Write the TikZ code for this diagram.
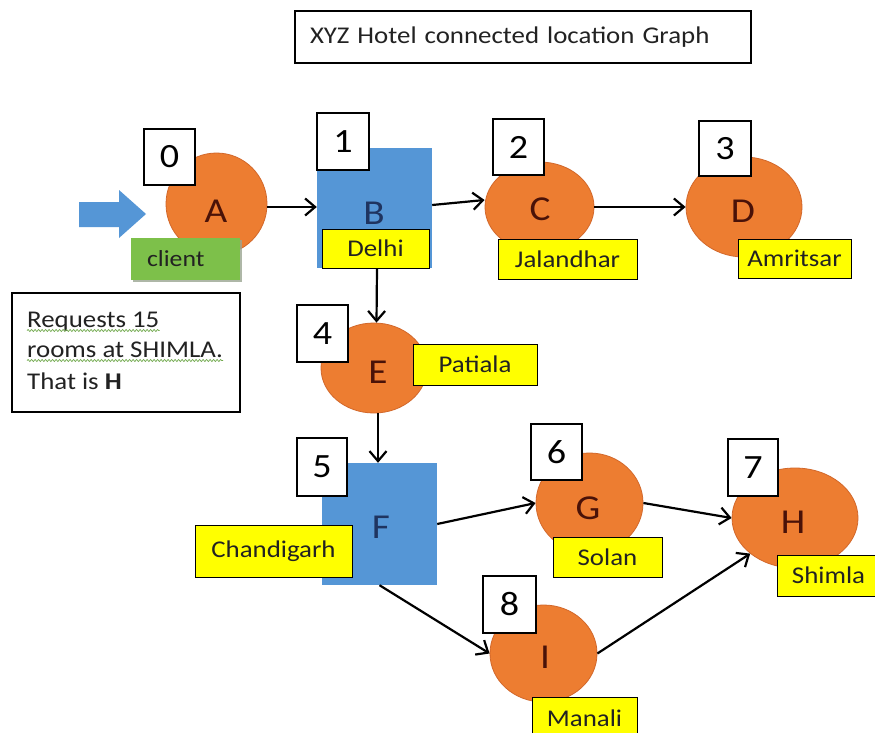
\documentclass[tikz,border=0pt]{standalone}
\usepackage{fontspec}
\setmainfont{Carlito}[FakeStretch=1.12]
\usetikzlibrary{shapes.geometric,arrows.meta,decorations.pathmorphing,shadows}
\definecolor{orng}{HTML}{ED7D31}
\definecolor{orngedge}{HTML}{D2672A}
\definecolor{bluebox}{HTML}{5596D6}
\definecolor{ylw}{HTML}{FFFF00}
\definecolor{grn}{HTML}{7DC04A}
\definecolor{grnshadow}{HTML}{9AA592}
\definecolor{wavyc}{HTML}{6FA84A}
\definecolor{ltr}{HTML}{4A1208}
\definecolor{navy}{HTML}{1F3460}
\definecolor{ink}{HTML}{222222}
\tikzset{
  city/.style={ellipse, fill=orng, draw=orngedge, line width=0.8pt, inner sep=0pt},
  hub/.style={rectangle, fill=bluebox, inner sep=0pt},
  letter/.style={inner sep=0pt, font=\fontsize{35}{35}\selectfont, text=ltr},
  hubletter/.style={letter, text=navy},
  numbox/.style={rectangle, draw=black, line width=1.2pt, fill=white, minimum width=51pt, minimum height=56pt, inner sep=0pt, font=\fontsize{34}{34}\selectfont},
  cityname/.style={rectangle, draw=black, line width=1pt, fill=ylw, inner sep=0pt, font=\fontsize{24}{24}\selectfont, text=ink},
  link/.style={draw=black, line width=2.2pt, -{Straight Barb[length=10pt,width=17pt]}},
  plain/.style={inner sep=0pt, font=\fontsize{24}{24}\selectfont, text=ink},
}
\begin{document}
\begin{tikzpicture}[x=1pt,y=-1pt]
\useasboundingbox (0,0) rectangle (875,733);
\clip (0,0) rectangle (875,733);
\fill[white] (0,0) rectangle (875,733);

% title
\node[draw=black, line width=1.2pt, minimum width=456pt, minimum height=52pt, text width=426pt, align=left, inner sep=0pt, font=\fontsize{24}{24}\selectfont, text=ink] (title) at (523,37) {XYZ Hotel connected location Graph};

% input arrow
\fill[bluebox] (79,202) -- (119,202) -- (119,190) -- (146,214) -- (119,238) -- (119,227) -- (79,227) -- cycle;

% main shapes
\node[city, minimum width=101pt, minimum height=102pt] (A) at (216.5,204) {};
\node[hub, minimum width=115pt, minimum height=120pt] (B) at (374.5,208) {};
\node[city, minimum width=109pt, minimum height=90pt] (C) at (539.5,207) {};
\node[city, minimum width=116pt, minimum height=100pt] (D) at (744,207) {};
\node[city, minimum width=106pt, minimum height=90pt] (E) at (374,368) {};
\node[hub, minimum width=115pt, minimum height=122pt] (F) at (379.5,524) {};
\node[city, minimum width=107pt, minimum height=100pt] (G) at (589.5,503) {};
\node[city, minimum width=126pt, minimum height=100pt] (H) at (795,518) {};
\node[city, minimum width=107pt, minimum height=97pt] (I) at (543.5,653.5) {};

% letters
\node[letter] (lA) at (216,211) {A};
\node[hubletter] (lB) at (374,213) {B};
\node[letter] (lC) at (540,209) {C};
\node[letter] (lD) at (743,211) {D};
\node[letter] (lE) at (378,372) {E};
\node[hubletter] (lF) at (381,527) {F};
\node[letter] (lG) at (588,508) {G};
\node[letter] (lH) at (793,522) {H};
\node[letter] (lI) at (545,657) {I};

% connectors
\draw[link] ([yshift=-3pt]A.east) -- ([yshift=-3pt]A.east -| B.west);
\draw[link] ([yshift=3pt]B.east) -- ([yshift=7pt]C.west);
\draw[link] (C.east) -- (D.west);
\draw[link] ([xshift=2.5pt]B.south) -- ([xshift=2.5pt]E.north);
\draw[link] ([xshift=4pt]E.south) -- ([xshift=4pt]E.south |- F.north);
\draw[link] (F.east) -- (G.west);
\draw[link] (G.east) -- (H.west);
\draw[link] (F.south) -- (I.west);
\draw[link] (I.east) -- (H.south west);

% number boxes
\node[numbox] (n0) at (169.5,157) {0};
\node[numbox, minimum width=52pt, minimum height=57pt] (n1) at (343,141.5) {1};
\node[numbox] (n2) at (518.5,147) {2};
\node[numbox, minimum width=52pt, minimum height=55pt] (n3) at (725,148.5) {3};
\node[numbox, minimum height=57pt] (n4) at (322.5,333.5) {4};
\node[numbox, minimum width=50pt, minimum height=58pt] (n5) at (322,467) {5};
\node[numbox] (n6) at (556.5,452) {6};
\node[numbox, minimum width=50pt, minimum height=57pt] (n7) at (753,467.5) {7};
\node[numbox, minimum width=53pt, minimum height=57pt] (n8) at (509.5,604.5) {8};

% place names
\node[rectangle, fill=grn, minimum width=109pt, minimum height=42pt, inner sep=0pt, text width=77pt, align=left,
      font=\fontsize{23}{23}\selectfont, text=ink,
      drop shadow={shadow xshift=2pt, shadow yshift=-2pt, fill=grnshadow, opacity=0.8}] (client) at (185.5,259) {client};
\node[cityname, minimum width=107pt, minimum height=39pt] (delhi) at (375.5,248.5) {Delhi};
\node[cityname, minimum width=139pt, minimum height=40pt] (jal) at (567.5,259) {Jalandhar};
\node[cityname, minimum width=113pt, minimum height=39pt] (amr) at (794.5,258.5) {Amritsar};
\node[cityname, minimum width=124pt, minimum height=41pt] (pat) at (475,364.5) {Patiala};
\node[cityname, minimum width=157pt, minimum height=52pt] (cha) at (273.5,551) {Chandigarh};
\node[cityname, minimum width=109pt, minimum height=40pt] (sol) at (607.5,557) {Solan};
\node[cityname, minimum width=103pt, minimum height=41pt] (shi) at (828.5,575.5) {Shimla};
\node[cityname, minimum width=105pt, minimum height=43pt] (man) at (584.5,718.5) {Manali};

% request note
\node[rectangle, draw=black, line width=1.2pt, minimum width=228pt, minimum height=119pt, inner sep=0pt] (reqbox) at (126,352.5) {};
\node[plain, anchor=base west] (req1) at (27,327) {Requests 15};
\node[plain, anchor=base west] (req2) at (27,357) {rooms at SHIMLA.};
\node[plain, anchor=base west] (req3) at (27,389) {That is \textbf{H}};
\draw[wavyc, line width=0.7pt, decorate, decoration={snake, amplitude=1pt, segment length=3.5pt}]
  ([yshift=-3.5pt]req1.base west) -- ([yshift=-3.5pt]req1.base east);
\draw[wavyc, line width=0.7pt, decorate, decoration={snake, amplitude=1pt, segment length=3.5pt}]
  ([yshift=-3.5pt]req2.base west) -- ([yshift=-3.5pt]req2.base east);
\end{tikzpicture}
\end{document}
